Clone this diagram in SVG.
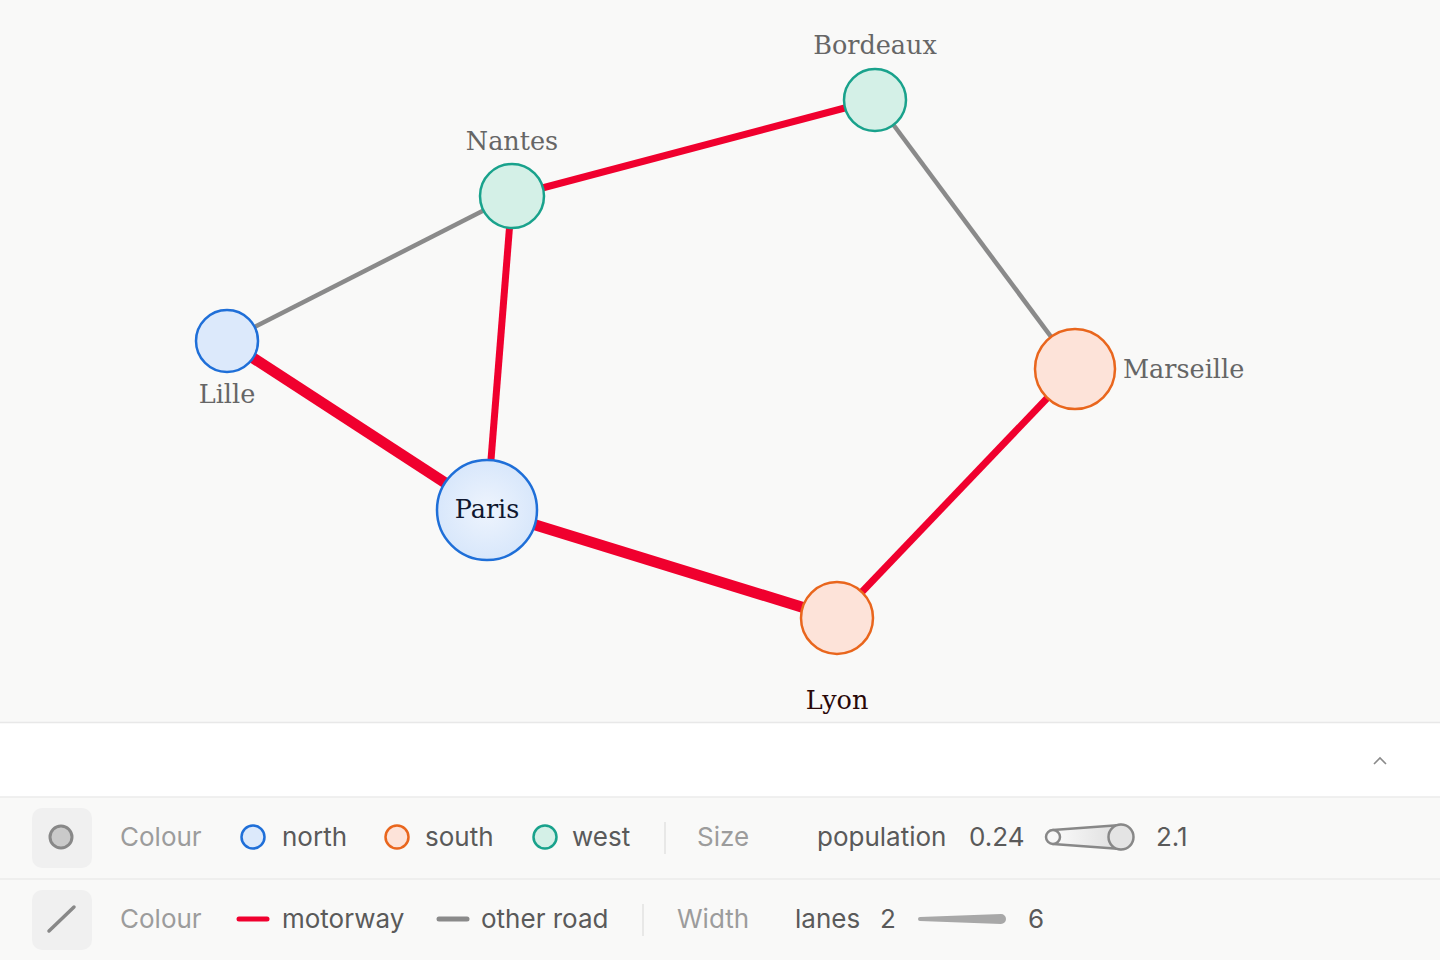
<svg xmlns="http://www.w3.org/2000/svg" width="1440" height="960" viewBox="0 0 1440 960">
<defs>
<style>
.lbl{font-family:"DejaVu Serif","Liberation Serif",serif;font-size:25.5px;fill:#666}
.lbl-dark{font-family:"DejaVu Serif","Liberation Serif",serif;font-size:25.5px}
.north{fill:#dce9fb;stroke:#1f6fd8;stroke-width:2.5}
.south{fill:#fde3d9;stroke:#e9661d;stroke-width:2.5}
.west{fill:#d4f0e7;stroke:#19a28c;stroke-width:2.5}
.mw{stroke:#f0002e;stroke-linecap:butt;fill:none}
.road{stroke:#8a8a8a;stroke-width:4.5;fill:none}
.lg{font-family:Inter,"Liberation Sans",sans-serif;font-size:26px;fill:#5a5a5a}
.lgh{font-family:Inter,"Liberation Sans",sans-serif;font-size:26px;fill:#9c9c9c}
.sep{stroke:#e2e2e2;stroke-width:1.5}
</style>
<radialGradient id="parisGrad" cx="50%" cy="50%" r="50%">
<stop offset="0%" stop-color="#eef4fd"/>
<stop offset="100%" stop-color="#d8e7fb"/>
</radialGradient>
<linearGradient id="sizeGrad" x1="0" y1="0" x2="1" y2="0">
<stop offset="0%" stop-color="#fafafa"/>
<stop offset="100%" stop-color="#dedede"/>
</linearGradient>
</defs>
<rect x="0" y="0" width="1440" height="960" fill="#f9f9f8"/>

<g id="connectors">
<line class="mw" x1="512" y1="196" x2="875" y2="100" stroke-width="7"/>
<line class="road" x1="512" y1="196" x2="227" y2="341"/>
<line class="mw" x1="512" y1="196" x2="487" y2="510" stroke-width="7"/>
<line class="mw" x1="227" y1="341" x2="487" y2="510" stroke-width="11"/>
<line class="mw" x1="487" y1="510" x2="837" y2="618" stroke-width="11"/>
<line class="mw" x1="837" y1="618" x2="1075" y2="369" stroke-width="7"/>
<line class="road" x1="875" y1="100" x2="1075" y2="369"/>
</g>

<g id="node-bordeaux">
<circle class="west" cx="875" cy="100" r="31"/>
<text class="lbl" x="875" y="54" text-anchor="middle">Bordeaux</text>
</g>
<g id="node-nantes">
<circle class="west" cx="512" cy="196" r="32"/>
<text class="lbl" x="512" y="150" text-anchor="middle">Nantes</text>
</g>
<g id="node-lille">
<circle class="north" cx="227" cy="341" r="31"/>
<text class="lbl" x="227" y="403" text-anchor="middle">Lille</text>
</g>
<g id="node-paris">
<circle cx="487" cy="510" r="50" fill="url(#parisGrad)" stroke="#1f6fd8" stroke-width="2.5"/>
<text class="lbl-dark" x="487" y="518" text-anchor="middle" fill="#101830">Paris</text>
</g>
<g id="node-marseille">
<circle class="south" cx="1075" cy="369" r="40"/>
<text class="lbl" x="1123" y="378">Marseille</text>
</g>
<g id="node-lyon">
<circle class="south" cx="837" cy="618" r="36"/>
<text class="lbl-dark" x="837" y="709" text-anchor="middle" fill="#2a0808">Lyon</text>
</g>

<g id="legend">
<rect x="0" y="723" width="1440" height="74" fill="#ffffff"/>
<line x1="0" y1="722.5" x2="1440" y2="722.5" stroke="#e8e8e8" stroke-width="1.5"/>
<line x1="0" y1="797" x2="1440" y2="797" stroke="#ebebeb" stroke-width="1.5"/>
<line x1="0" y1="879" x2="1440" y2="879" stroke="#ebebeb" stroke-width="1.5"/>
<path d="M1374,764 L1380,758 L1386,764" fill="none" stroke="#8a8a8a" stroke-width="1.6"/>

<rect x="32" y="808" width="60" height="60" rx="10" fill="#f0f0f0"/>
<circle cx="61" cy="837" r="11" fill="#cacaca" stroke="#888" stroke-width="3"/>
<text class="lgh" x="120" y="846">Colour</text>
<circle class="north" cx="253" cy="837" r="11.5"/>
<text class="lg" x="282" y="846">north</text>
<circle class="south" cx="397" cy="837" r="11.5"/>
<text class="lg" x="425" y="846">south</text>
<circle class="west" cx="545" cy="837" r="11.5"/>
<text class="lg" x="572" y="846">west</text>
<line class="sep" x1="665" y1="822" x2="665" y2="854"/>
<text class="lgh" x="697" y="846">Size</text>
<text class="lg" x="817" y="846">population</text>
<text class="lg" x="969" y="846">0.24</text>
<path d="M1053,830 L1121,825 L1121,849 L1053,844 Z" fill="url(#sizeGrad)" stroke="#888" stroke-width="2.5" stroke-linejoin="round"/>
<circle cx="1053" cy="837" r="7" fill="#f7f7f7" stroke="#888" stroke-width="2.5"/>
<circle cx="1121" cy="837" r="12.5" fill="#e4e4e4" stroke="#888" stroke-width="2.5"/>
<text class="lg" x="1156" y="846">2.1</text>

<rect x="32" y="890" width="60" height="60" rx="10" fill="#f0f0f0"/>
<line x1="49" y1="931" x2="74" y2="907" stroke="#888" stroke-width="3.5" stroke-linecap="round"/>
<text class="lgh" x="120" y="928">Colour</text>
<line x1="239" y1="919" x2="267" y2="919" stroke="#f0002e" stroke-width="5" stroke-linecap="round"/>
<text class="lg" x="282" y="928">motorway</text>
<line x1="439" y1="919" x2="467" y2="919" stroke="#8a8a8a" stroke-width="5" stroke-linecap="round"/>
<text class="lg" x="481" y="928">other road</text>
<line class="sep" x1="643" y1="904" x2="643" y2="936"/>
<text class="lgh" x="677" y="928">Width</text>
<text class="lg" x="795" y="928">lanes</text>
<text class="lg" x="880" y="928">2</text>
<path d="M920,917 L1001,914 A5,5 0 0 1 1001,924 L920,921 A2,2 0 0 1 920,917 Z" fill="#a8a8a8"/>
<text class="lg" x="1028" y="928">6</text>
</g>
</svg>
